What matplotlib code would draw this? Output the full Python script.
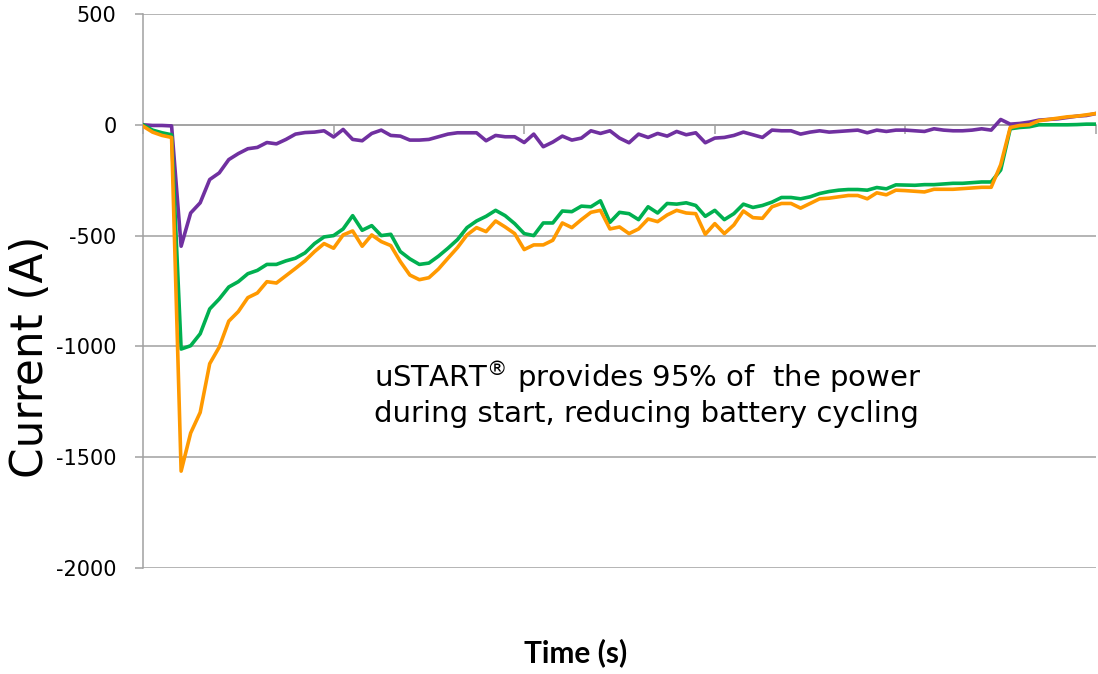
import numpy as np
import matplotlib.pyplot as plt

plt.rcParams['axes.unicode_minus'] = False

# %% Data (current in A, one sample per category)
battery_a = [0, -3, -3, -5, -548, -398, -352, -247, -217, -157,
             -130, -108, -102, -80, -86, -66, -42, -35, -33, -27,
             -55, -21, -66, -72, -39, -24, -48, -51, -69, -69,
             -66, -54, -42, -36, -36, -36, -72, -48, -54, -54,
             -80, -42, -99, -78, -51, -69, -60, -27, -39, -27,
             -60, -81, -42, -57, -39, -51, -30, -45, -36, -81,
             -60, -57, -48, -33, -45, -57, -24, -27, -27, -42,
             -33, -27, -33, -30, -27, -24, -36, -24, -30, -24,
             -24, -27, -30, -18, -24, -27, -27, -24, -18, -24,
             24, 3, 6, 12, 21, 24, 27, 33, 39, 42,
             51]

ustart_a = [0, -24, -36, -45, -1012, -997, -943, -831, -786, -732,
            -708, -672, -657, -630, -630, -614, -602, -578, -536, -506,
            -500, -470, -410, -476, -455, -500, -494, -572, -605, -630,
            -624, -593, -557, -518, -464, -434, -413, -386, -410, -446,
            -491, -500, -443, -443, -389, -392, -367, -370, -343, -440,
            -395, -401, -428, -370, -398, -355, -358, -352, -364, -413,
            -386, -428, -401, -358, -373, -364, -349, -328, -328, -334,
            -325, -310, -301, -295, -292, -292, -295, -283, -289, -271,
            -272, -273, -270, -270, -267, -264, -264, -261, -258, -258,
            -204, -18, -12, -9, 0, 0, 0, 0, 1, 3,
            3]

total_a = [-6, -33, -48, -57, -1563, -1391, -1298, -1078, -1003, -886,
           -843, -780, -759, -708, -714, -681, -648, -614, -572, -536,
           -557, -497, -479, -548, -497, -527, -545, -617, -678, -699,
           -690, -651, -602, -554, -497, -464, -482, -434, -461, -491,
           -563, -542, -542, -521, -443, -464, -428, -395, -386, -470,
           -461, -491, -470, -425, -437, -407, -386, -398, -401, -494,
           -446, -491, -452, -389, -419, -422, -370, -355, -355, -376,
           -355, -334, -331, -325, -319, -319, -334, -307, -316, -295,
           -297, -300, -303, -291, -291, -291, -288, -285, -282, -282,
           -180, -12, -3, 0, 18, 24, 30, 36, 39, 45,
           51]

y_ticks = [-2000, -1500, -1000, -500, 0, 500]
note = ('uSTART$^{\\circledR}$ provides 95% of  the power\n'
        'during start, reducing battery cycling')

# %% Plot
grid_col = '#A0A0A0'
W, H = 1098, 674
fig = plt.figure(figsize=[W/100, H/100], dpi=100)
ax = fig.add_axes([143/W, 1-568/H, (1096-143)/W, (568-14)/H])

x = np.arange(len(total_a))
ax.plot(x, battery_a, color='#7030A0', lw=2.6, solid_joinstyle='round', zorder=3)
ax.plot(x, ustart_a, color='#00B050', lw=2.6, solid_joinstyle='round', zorder=3)
ax.plot(x, total_a, color='#FF9900', lw=2.6, solid_joinstyle='round', zorder=3)

ax.set_xlim(0, len(total_a)-1)
ax.set_ylim(y_ticks[0], y_ticks[-1])
ax.set_yticks(y_ticks)
ax.set_yticklabels([str(v) for v in y_ticks], fontsize=15)
ax.yaxis.grid(True, color=grid_col, lw=1.1)
ax.set_axisbelow(True)

for s in ['top', 'right']:
    ax.spines[s].set_visible(False)
ax.spines['left'].set_color(grid_col)
ax.spines['left'].set_linewidth(1.1)
ax.spines['bottom'].set_position(('data', 0))
ax.spines['bottom'].set_color(grid_col)
ax.spines['bottom'].set_linewidth(1.1)

ax.set_xticks(np.arange(0, len(total_a), 20))
ax.set_xticklabels([])
ax.tick_params(axis='x', direction='out', length=6.5, width=1.1, color=grid_col)
ax.tick_params(axis='y', direction='out', length=6, width=1.1, color=grid_col,
               pad=13, labelcolor='black')

fig.text(31/W, 1-357/H, 'Current (A)', rotation=90, fontsize=31.5,
         ha='center', va='center')
fig.text(576/W, 1-653/H, 'Time (s)', fontsize=21.5, fontweight='bold',
         family='Lato', ha='center', va='center')
fig.text(374/W, 1-360/H, note, fontsize=21, ha='left', va='top',
         linespacing=1.15)

plt.savefig('out.png', dpi=100)
